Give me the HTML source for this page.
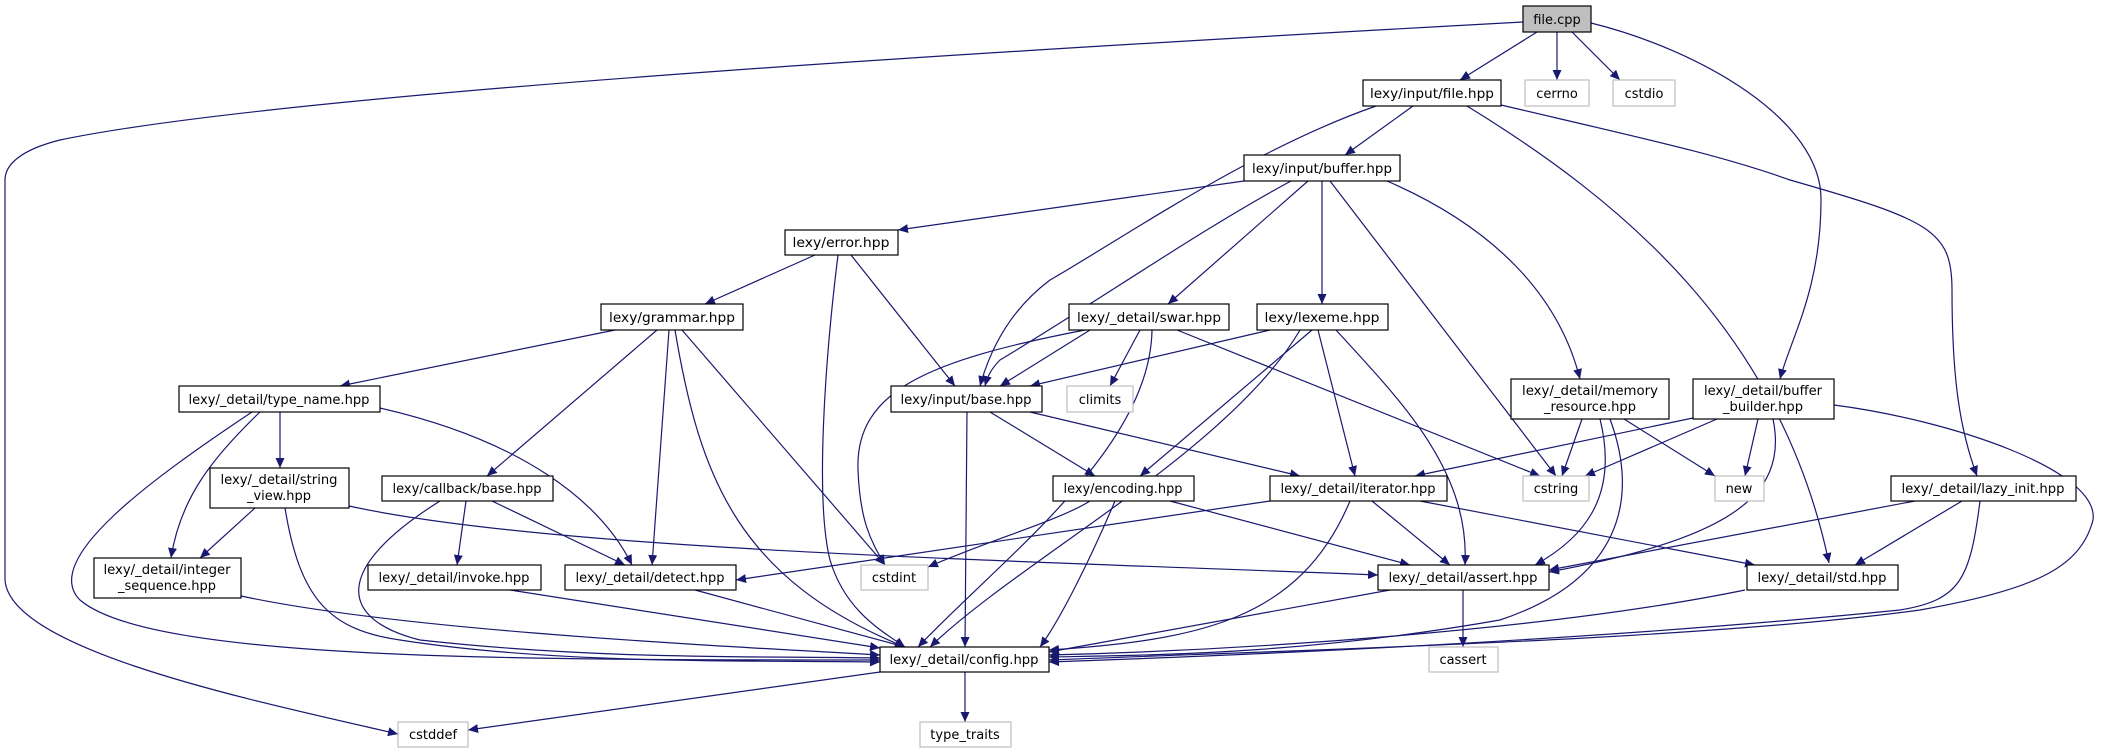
<!DOCTYPE html>
<html><head><meta charset="utf-8"><style>
html,body{margin:0;padding:0;background:#fff;}
svg{display:block;}
text{font-family:"DejaVu Sans","Liberation Sans",sans-serif;font-size:13px;fill:#000;}
.e{fill:none;stroke:#191970;stroke-width:1.2;marker-end:url(#a);}
.n{fill:#fff;stroke:#000;stroke-width:1.2;}
.g{fill:#fff;stroke:#bfbfbf;stroke-width:1.2;}
</style></head><body>
<svg width="2103" height="753" viewBox="0 0 2103 753" xmlns="http://www.w3.org/2000/svg">
<defs><marker id="a" markerWidth="11" markerHeight="9" refX="10" refY="4.5" orient="auto" markerUnits="userSpaceOnUse"><path d="M0,0 L10,4.5 L0,9 z" fill="#191970"/></marker></defs>
<!-- edges -->
<path class="e" d="M1537,32 L1460,80"/>
<path class="e" d="M1557,32 L1557,80"/>
<path class="e" d="M1572,32 L1620,80"/>
<path class="e" d="M1591,23 C1700,50 1822,120 1821,200 C1821,290 1790,340 1780,379"/>
<path class="e" d="M1523,22 C1100,45 300,90 60,140 C20,150 5,165 5,180 L5,580 C10,650 250,700 398,734"/>
<path class="e" d="M1376,106 C1250,150 1120,240 1050,280 C1010,310 990,350 980,386"/>
<path class="e" d="M1413,106 L1345,155"/>
<path class="e" d="M1467,106 C1620,200 1780,330 1829,563"/>
<path class="e" d="M1501,105 C1650,140 1720,155 1790,180 C1930,220 1952,230 1952,290 C1952,380 1960,430 1977,476"/>
<path class="e" d="M1244,181 L898,230"/>
<path class="e" d="M1291,181 C1200,230 1100,300 1000,360 C990,370 987,378 985,386"/>
<path class="e" d="M1308,181 L1168,304"/>
<path class="e" d="M1322,181 L1322,304"/>
<path class="e" d="M1330,181 L1556,476"/>
<path class="e" d="M1387,181 C1500,230 1560,300 1580,379"/>
<path class="e" d="M815,255 L705,304"/>
<path class="e" d="M838,255 C825,360 815,500 830,560 C845,610 880,630 905,647"/>
<path class="e" d="M851,255 L955,386"/>
<path class="e" d="M615,330 L340,386"/>
<path class="e" d="M657,330 L487,476"/>
<path class="e" d="M669,330 L652,565"/>
<path class="e" d="M675,330 C700,480 740,580 905,647"/>
<path class="e" d="M682,330 L885,565"/>
<path class="e" d="M280,412 L280,468"/>
<path class="e" d="M260,412 C210,460 180,500 171,558"/>
<path class="e" d="M252,412 C150,480 40,560 80,600 C150,660 500,660 880,660"/>
<path class="e" d="M380,408 C520,440 600,500 632,565"/>
<path class="e" d="M255,508 L200,558"/>
<path class="e" d="M285,508 C300,600 330,630 400,640 C560,665 750,660 880,662"/>
<path class="e" d="M349,506 C550,550 1000,560 1378,575"/>
<path class="e" d="M241,596 C400,630 700,645 880,655"/>
<path class="e" d="M466,501 L457,565"/>
<path class="e" d="M492,501 L625,565"/>
<path class="e" d="M440,501 C330,570 340,620 420,640 C600,660 760,656 880,658"/>
<path class="e" d="M510,590 L880,648"/>
<path class="e" d="M695,590 L905,647"/>
<path class="e" d="M967,412 L965,647"/>
<path class="e" d="M990,412 L1095,476"/>
<path class="e" d="M1030,412 L1300,476"/>
<path class="e" d="M1090,330 L1000,386"/>
<path class="e" d="M1140,330 L1110,386"/>
<path class="e" d="M1085,330 C930,360 855,390 858,470 C860,520 870,540 885,565"/>
<path class="e" d="M1152,330 C1150,450 1000,560 918,647"/>
<path class="e" d="M1177,330 L1540,476"/>
<path class="e" d="M1270,330 L1030,386"/>
<path class="e" d="M1312,330 L1140,476"/>
<path class="e" d="M1318,330 L1355,476"/>
<path class="e" d="M1300,330 C1230,450 1020,560 930,647"/>
<path class="e" d="M1336,330 C1400,400 1470,470 1465,565"/>
<path class="e" d="M1582,419 L1562,476"/>
<path class="e" d="M1624,419 L1715,476"/>
<path class="e" d="M1600,419 C1620,500 1580,540 1535,565"/>
<path class="e" d="M1610,419 C1640,500 1620,580 1500,620 C1300,655 1150,655 1049,657"/>
<path class="e" d="M1693,418 L1415,476"/>
<path class="e" d="M1717,419 L1585,476"/>
<path class="e" d="M1758,419 L1745,476"/>
<path class="e" d="M1773,419 C1790,500 1720,540 1549,572"/>
<path class="e" d="M1834,405 C1950,420 2100,470 2093,520 C2080,570 2030,590 1920,610 C1700,640 1300,650 1049,660"/>
<path class="e" d="M1090,501 C1060,520 990,540 928,567"/>
<path class="e" d="M1115,501 C1090,560 1060,620 1040,647"/>
<path class="e" d="M1170,501 L1410,565"/>
<path class="e" d="M1270,501 L736,580"/>
<path class="e" d="M1350,501 C1300,620 1200,640 1049,650"/>
<path class="e" d="M1372,501 L1450,565"/>
<path class="e" d="M1420,501 L1755,565"/>
<path class="e" d="M1390,590 L1049,652"/>
<path class="e" d="M1463,590 L1463,647"/>
<path class="e" d="M1745,590 C1550,630 1250,650 1049,655"/>
<path class="e" d="M1915,501 L1549,570"/>
<path class="e" d="M1962,501 L1855,565"/>
<path class="e" d="M1980,501 C1970,580 1960,600 1900,610 C1600,640 1250,655 1049,662"/>
<path class="e" d="M880,672 L468,730"/>
<path class="e" d="M965,672 L965,722"/>
<!-- nodes -->
<rect x="1523" y="6" width="68" height="26" fill="#bfbfbf" stroke="#000" stroke-width="1.2"/><text x="1557" y="24" text-anchor="middle">file.cpp</text>
<rect class="n" x="1363" y="80" width="138" height="26"/><text x="1432" y="98" text-anchor="middle" textLength="124" lengthAdjust="spacingAndGlyphs">lexy/input/file.hpp</text>
<rect class="g" x="1525" y="80" width="64" height="26"/><text x="1557" y="98" text-anchor="middle">cerrno</text>
<rect class="g" x="1613" y="80" width="62" height="26"/><text x="1644" y="98" text-anchor="middle">cstdio</text>
<rect class="n" x="1244" y="155" width="156" height="26"/><text x="1322" y="173" text-anchor="middle" textLength="140" lengthAdjust="spacingAndGlyphs">lexy/input/buffer.hpp</text>
<rect class="n" x="785" y="230" width="113" height="25"/><text x="841" y="247" text-anchor="middle" textLength="97" lengthAdjust="spacingAndGlyphs">lexy/error.hpp</text>
<rect class="n" x="601" y="304" width="142" height="26"/><text x="672" y="322" text-anchor="middle" textLength="126" lengthAdjust="spacingAndGlyphs">lexy/grammar.hpp</text>
<rect class="n" x="1069" y="304" width="160" height="26"/><text x="1149" y="322" text-anchor="middle" textLength="144" lengthAdjust="spacingAndGlyphs">lexy/_detail/swar.hpp</text>
<rect class="n" x="1257" y="304" width="131" height="26"/><text x="1322" y="322" text-anchor="middle" textLength="115" lengthAdjust="spacingAndGlyphs">lexy/lexeme.hpp</text>
<rect class="n" x="1511" y="379" width="158" height="40"/><text x="1590" y="395" text-anchor="middle" textLength="136" lengthAdjust="spacingAndGlyphs">lexy/_detail/memory</text><text x="1590" y="411" text-anchor="middle" textLength="92" lengthAdjust="spacingAndGlyphs">_resource.hpp</text>
<rect class="n" x="1693" y="379" width="141" height="40"/><text x="1763" y="395" text-anchor="middle" textLength="118" lengthAdjust="spacingAndGlyphs">lexy/_detail/buffer</text><text x="1763" y="411" text-anchor="middle" textLength="80" lengthAdjust="spacingAndGlyphs">_builder.hpp</text>
<rect class="n" x="179" y="386" width="201" height="26"/><text x="279" y="404" text-anchor="middle" textLength="181" lengthAdjust="spacingAndGlyphs">lexy/_detail/type_name.hpp</text>
<rect class="n" x="891" y="386" width="151" height="26"/><text x="966" y="404" text-anchor="middle" textLength="131" lengthAdjust="spacingAndGlyphs">lexy/input/base.hpp</text>
<rect class="g" x="1067" y="386" width="66" height="26"/><text x="1100" y="404" text-anchor="middle">climits</text>
<rect class="n" x="210" y="468" width="139" height="40"/><text x="279" y="484" text-anchor="middle" textLength="117" lengthAdjust="spacingAndGlyphs">lexy/_detail/string</text><text x="279" y="500" text-anchor="middle" textLength="64" lengthAdjust="spacingAndGlyphs">_view.hpp</text>
<rect class="n" x="382" y="476" width="171" height="25"/><text x="467" y="493" text-anchor="middle" textLength="149" lengthAdjust="spacingAndGlyphs">lexy/callback/base.hpp</text>
<rect class="n" x="1053" y="476" width="141" height="25"/><text x="1123" y="493" text-anchor="middle" textLength="119" lengthAdjust="spacingAndGlyphs">lexy/encoding.hpp</text>
<rect class="n" x="1270" y="476" width="177" height="25"/><text x="1358" y="493" text-anchor="middle" textLength="155" lengthAdjust="spacingAndGlyphs">lexy/_detail/iterator.hpp</text>
<rect class="g" x="1523" y="476" width="66" height="25"/><text x="1556" y="493" text-anchor="middle">cstring</text>
<rect class="g" x="1715" y="476" width="49" height="25"/><text x="1739" y="493" text-anchor="middle">new</text>
<rect class="n" x="1891" y="476" width="185" height="25"/><text x="1983" y="493" text-anchor="middle" textLength="163" lengthAdjust="spacingAndGlyphs">lexy/_detail/lazy_init.hpp</text>
<rect class="n" x="94" y="558" width="147" height="40"/><text x="167" y="574" text-anchor="middle" textLength="127" lengthAdjust="spacingAndGlyphs">lexy/_detail/integer</text><text x="167" y="590" text-anchor="middle" textLength="98" lengthAdjust="spacingAndGlyphs">_sequence.hpp</text>
<rect class="n" x="368" y="565" width="173" height="25"/><text x="454" y="582" text-anchor="middle" textLength="151" lengthAdjust="spacingAndGlyphs">lexy/_detail/invoke.hpp</text>
<rect class="n" x="565" y="565" width="171" height="25"/><text x="650" y="582" text-anchor="middle" textLength="149" lengthAdjust="spacingAndGlyphs">lexy/_detail/detect.hpp</text>
<rect class="g" x="861" y="565" width="67" height="25"/><text x="894" y="582" text-anchor="middle">cstdint</text>
<rect class="n" x="1378" y="565" width="171" height="25"/><text x="1463" y="582" text-anchor="middle" textLength="149" lengthAdjust="spacingAndGlyphs">lexy/_detail/assert.hpp</text>
<rect class="n" x="1747" y="565" width="151" height="25"/><text x="1822" y="582" text-anchor="middle" textLength="129" lengthAdjust="spacingAndGlyphs">lexy/_detail/std.hpp</text>
<rect class="n" x="880" y="647" width="169" height="25"/><text x="964" y="664" text-anchor="middle" textLength="149" lengthAdjust="spacingAndGlyphs">lexy/_detail/config.hpp</text>
<rect class="g" x="1429" y="647" width="69" height="25"/><text x="1463" y="664" text-anchor="middle">cassert</text>
<rect class="g" x="398" y="722" width="70" height="25"/><text x="433" y="739" text-anchor="middle">cstddef</text>
<rect class="g" x="920" y="722" width="91" height="25"/><text x="965" y="739" text-anchor="middle">type_traits</text>
</svg>
</body></html>
